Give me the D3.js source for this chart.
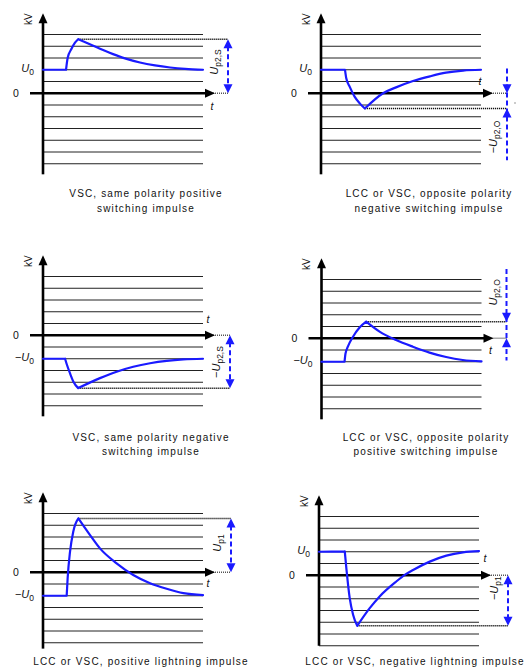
<!DOCTYPE html>
<html><head><meta charset="utf-8">
<script src="https://cdn.jsdelivr.net/npm/d3@7"></script>
<style>body{margin:0;background:#fff}svg{display:block}text{font-family:"Liberation Sans",Arial,sans-serif;fill:#111}</style>
</head><body><svg id="c" width="526" height="668"></svg>
<script>
// ---------------- DATA ----------------
const captions = [
  ["VSC, same polarity positive", "switching impulse"],
  ["LCC or VSC, opposite polarity", "negative switching impulse"],
  ["VSC, same polarity negative", "switching impulse"],
  ["LCC or VSC, opposite polarity", "positive switching impulse"],
  ["LCC or VSC, positive lightning impulse"],
  ["LCC or VSC, negative lightning impulse"]
];
const u0Levels = [2, 2, -2, -2, -2, 2];
const dimSigns = ["", "\u2212", "\u2212", "", "", "\u2212"];
const dimSubs = ["p2,S", "p2,O", "p2,S", "p2,O", "p1", "p1"];
const gridLevels = [5, 4, 3, 2, 1, -1, -2, -3, -4, -5, -6];

// [time (grid units), voltage (grid units)]
const curveVscPosSwitching = [[0,2],[1.44,2],[1.54,3.0],[1.79,3.8],[2.0,4.3],[2.2,4.6],[3.14,4.05],[3.56,3.78],[4.38,3.33],[5.12,2.97],[6.06,2.62],[7.0,2.37],[7.94,2.19],[8.88,2.07],[10,2.0]];
const curveOppNegSwitching = [[0,2],[1.5,2],[1.58,1.27],[1.79,0.56],[2.1,-0.29],[2.42,-0.86],[2.74,-1.3],[3.88,0],[4.69,0.5],[5.75,1.04],[6.81,1.44],[7.81,1.75],[8.88,1.93],[10,2.0]];
const curveVscNegSwitching = [[0,-2],[1.38,-2],[1.48,-2.45],[1.69,-3.25],[1.9,-3.95],[2.2,-4.5],[3.56,-3.65],[4.6,-3.1],[5.64,-2.68],[6.69,-2.38],[7.73,-2.18],[8.77,-2.06],[10,-2]];
const curveOppPosSwitching = [[0,-2],[1.44,-2],[1.5,-1.3],[1.64,-0.74],[1.96,0.11],[2.38,0.91],[2.79,1.41],[3.63,0.56],[4.66,-0.15],[5.71,-0.72],[6.75,-1.22],[7.79,-1.6],[8.83,-1.85],[10,-1.97]];
const curvePosLightning = [[0,-2],[1.48,-2],[1.54,-0.5],[1.69,1.75],[1.89,3.45],[2.21,4.58],[2.94,3.16],[3.56,2.03],[4.6,0.76],[5.64,-0.23],[6.69,-0.93],[7.73,-1.41],[8.77,-1.78],[10,-1.95]];
const curveNegLightning = [[0,2],[1.61,2.03],[1.71,0.59],[1.92,-1.95],[2.13,-3.36],[2.39,-4.3],[3.17,-2.8],[3.79,-1.8],[4.83,-0.53],[5.36,0.03],[5.88,0.45],[6.92,1.16],[7.96,1.67],[9.0,1.95],[10,2.05]];
const curves = [curveVscPosSwitching, curveOppNegSwitching, curveVscNegSwitching, curveOppPosSwitching, curvePosLightning, curveNegLightning];

// ---------------- LAYOUT ----------------
const panelOrigins = [[43,93.25],[321,93.25],[43,335.25],[321.5,338.25],[43,572.25],[319,575.25]];
const STEP = 11.75;
const yAxisMin = [-6.9,-6.9,-6.9,-6.9,-6.5,-6.0];
const tLabelOffsets = [[169,13],[159,-12],[165,-16],[169,12],[165,11],[166,-17]];
const dimInward = [false, true, false, true, false, false];
const dimExtents = [null, [2.1,-5.7], null, [5.9,-1.9], null, null];
const dimLabelLevels = [2.66, -3.72, -2.28, 3.9, 2.49, -1.1];
const dimXOffsets = [185, 186, 187, 185, 188, 189];
const captionCenters = [146, 429, 151, 426, 141, 415];
const captionBaselines = [[197,212],[197,212],[441,455],[441,455],[665],[665]];
const BLUE = "#1a1aff";

const svg = d3.select("#c");

function tri(g, tipX, tipY, dir, len, half, color) {
  let pts;
  if (dir === "up") pts = [[tipX,tipY],[tipX-half,tipY+len],[tipX+half,tipY+len]];
  else if (dir === "down") pts = [[tipX,tipY],[tipX-half,tipY-len],[tipX+half,tipY-len]];
  else pts = [[tipX,tipY],[tipX-len,tipY-half],[tipX-len,tipY+half]];
  g.append("path").attr("d", d3.line()(pts) + "Z").attr("fill", color);
}

function uLabel(sel, sign, sub, subSize) {
  if (sign) sel.append("tspan").text(sign);
  sel.append("tspan").attr("font-style", "italic").text("U");
  sel.append("tspan").attr("font-size", subSize).attr("dy", 3).text(sub);
}

curves.forEach((pts, i) => {
  const [ax, zero] = panelOrigins[i];
  const x = d3.scaleLinear().domain([0, 10]).range([ax, ax + 160]);
  const y = d3.scaleLinear().domain([0, 1]).range([zero, zero - STEP]);
  const g = svg.append("g");
  const dimX = ax + dimXOffsets[i];
  const u0 = u0Levels[i];
  const ext = d3.maxIndex(pts, p => Math.abs(p[1] - u0));
  const pk = pts[ext];

  // grid
  g.selectAll("line.grid").data(gridLevels).join("line").attr("class", "grid")
    .attr("x1", x(0)).attr("x2", x(10))
    .attr("y1", d => y(d)).attr("y2", d => y(d))
    .attr("stroke", "#222").attr("stroke-width", 1);

  // dotted extension of time axis
  g.append("line").attr("x1", ax + 170).attr("x2", dimX)
    .attr("y1", y(0)).attr("y2", y(0))
    .attr("stroke", "#555").attr("stroke-width", 1.3).attr("stroke-dasharray", "1,1");

  // dotted peak line
  g.append("line").attr("x1", x(pk[0])).attr("x2", dimX)
    .attr("y1", y(pk[1])).attr("y2", y(pk[1]))
    .attr("stroke", "#111").attr("stroke-width", 1.5).attr("stroke-dasharray", "1.2,0.8");

  // axes
  const yTop = y(6.8);
  g.append("line").attr("x1", ax).attr("x2", ax).attr("y1", y(yAxisMin[i])).attr("y2", yTop + 8)
    .attr("stroke", "#000").attr("stroke-width", 2.6);
  tri(g, ax, yTop, "up", 10, 4.5, "#000");
  g.append("line").attr("x1", ax - 13).attr("x2", ax + 164).attr("y1", y(0)).attr("y2", y(0))
    .attr("stroke", "#000").attr("stroke-width", 2.6);
  tri(g, ax + 172, y(0), "right", 10, 4.5, "#000");

  // curve
  const lin = d3.line().x(p => x(p[0])).y(p => y(p[1]));
  const mono = d3.line().x(p => x(p[0])).y(p => y(p[1])).curve(d3.curveMonotoneX);
  g.append("path")
    .attr("d", lin(pts.slice(0, 2)) + mono(pts.slice(1, ext + 1)) + mono(pts.slice(ext)))
    .attr("fill", "none").attr("stroke", BLUE).attr("stroke-width", 2.2)
    .attr("stroke-linecap", "round").attr("stroke-linejoin", "round");

  // dimension arrow
  const ya = y(0), yb = y(pk[1]);
  const hi = Math.min(ya, yb), lo = Math.max(ya, yb);
  if (!dimInward[i]) {
    g.append("line").attr("x1", dimX).attr("x2", dimX).attr("y1", hi + 7).attr("y2", lo - 7)
      .attr("stroke", BLUE).attr("stroke-width", 2).attr("stroke-dasharray", "5,3");
    tri(g, dimX, hi, "up", 9, 4.5, BLUE);
    tri(g, dimX, lo, "down", 9, 4.5, BLUE);
  } else {
    const [e0, e1] = dimExtents[i];
    g.append("line").attr("x1", dimX).attr("x2", dimX).attr("y1", y(e0)).attr("y2", y(e1))
      .attr("stroke", BLUE).attr("stroke-width", 2).attr("stroke-dasharray", "5,3");
    tri(g, dimX, hi, "down", 9, 4.5, BLUE);
    tri(g, dimX, lo, "up", 9, 4.5, BLUE);
  }
  const dl = g.append("text").attr("font-size", 11).attr("text-anchor", "middle")
    .attr("transform", `translate(${dimX - 13},${y(dimLabelLevels[i])}) rotate(-90)`)
    .attr("dy", "0.3em");
  uLabel(dl, dimSigns[i], dimSubs[i], 8.5);

  // axis labels
  g.append("text").attr("font-size", 10).attr("text-anchor", "middle")
    .attr("transform", `translate(${ax - 15},${zero - 74}) rotate(-90)`).attr("dy", "0.35em").text("kV");
  g.append("text").attr("font-size", 10.5).attr("text-anchor", "middle")
    .attr("x", ax - 27).attr("y", y(0) + 4).text("0");
  const ul = g.append("text").attr("font-size", 11).attr("text-anchor", "end")
    .attr("x", ax - 9).attr("y", y(u0) + 2);
  uLabel(ul, u0 < 0 ? "\u2212" : "", "0", 8.5);
  g.append("text").attr("font-size", 10.5).attr("font-style", "italic").attr("text-anchor", "middle")
    .attr("x", ax + tLabelOffsets[i][0]).attr("y", zero + tLabelOffsets[i][1] + 4).text("t");

  // caption
  captions[i].forEach((line, k) => {
    g.append("text").attr("font-size", 10).attr("letter-spacing", 1.15)
      .attr("text-anchor", "middle").attr("x", captionCenters[i]).attr("y", captionBaselines[i][k])
      .text(line);
  });

  if (i === 1) g.append("circle").attr("cx", 515).attr("cy", 103).attr("r", 0.8).attr("fill", "#888");
});
</script>
</body></html>
